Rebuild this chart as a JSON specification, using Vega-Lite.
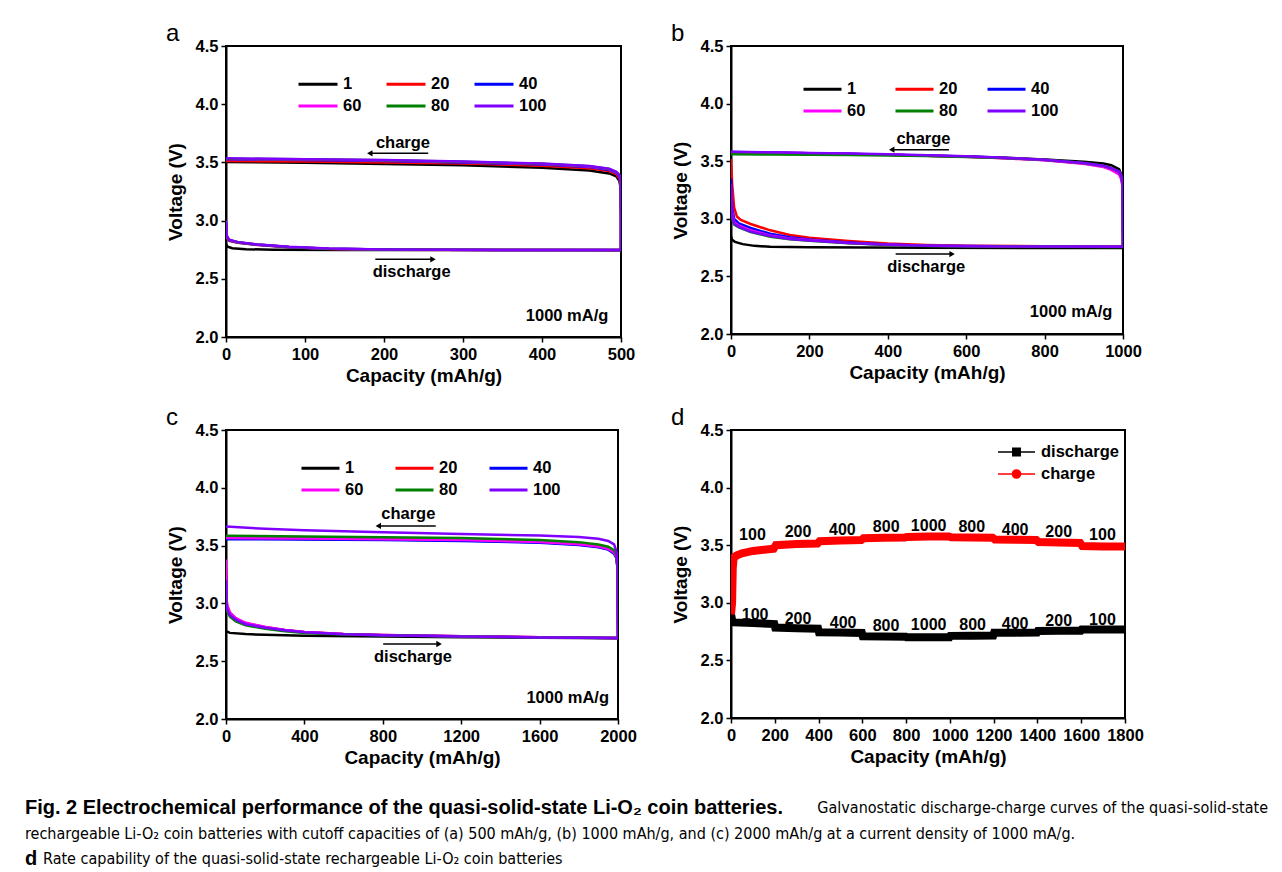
{
  "$schema": "https://vega.github.io/schema/vega-lite/v6.json",
  "background": "white",
  "padding": {"left": 25, "top": 21, "right": 4, "bottom": 2},
  "config": {
    "font": "Liberation Sans, Arial, sans-serif",
    "view": {"stroke": "#000000", "strokeWidth": 2},
    "axis": {"domainColor": "#000000", "domainWidth": 2, "tickColor": "#000000", "tickWidth": 1.5, "labelColor": "#000000", "labelFontSize": 16.5, "labelFontWeight": "bold", "titleColor": "#000000", "titleFontSize": 19, "titleFontWeight": "bold", "grid": false, "labelOverlap": false, "labelFlush": false, "labelBound": false},
    "axisX": {"labelPadding": 4, "titlePadding": 4},
    "axisY": {"labelPadding": 3, "titlePadding": 10},
    "legend": {"labelFontSize": 16.5, "labelFontWeight": "bold", "labelColor": "#000000", "padding": 0},
    "title": {"color": "#000000"}
  },
  "datasets": {
    "a": [
      {"cycle":"1","capacity":0,"voltage":2.8},{"cycle":"1","capacity":2,"voltage":2.775},{"cycle":"1","capacity":8,"voltage":2.762},{"cycle":"1","capacity":25,"voltage":2.754},{"cycle":"1","capacity":60,"voltage":2.75},{"cycle":"1","capacity":150,"voltage":2.748},{"cycle":"1","capacity":300,"voltage":2.747},{"cycle":"1","capacity":500,"voltage":2.746},
      {"cycle":"1","capacity":500,"voltage":3.05},{"cycle":"1","capacity":499.5,"voltage":3.28},{"cycle":"1","capacity":498,"voltage":3.34},{"cycle":"1","capacity":494,"voltage":3.38},{"cycle":"1","capacity":485,"voltage":3.405},{"cycle":"1","capacity":460,"voltage":3.43},{"cycle":"1","capacity":400,"voltage":3.455},{"cycle":"1","capacity":300,"voltage":3.475},{"cycle":"1","capacity":200,"voltage":3.487},{"cycle":"1","capacity":100,"voltage":3.496},{"cycle":"1","capacity":0,"voltage":3.503},
      {"cycle":"20","capacity":0,"voltage":2.93},{"cycle":"20","capacity":1,"voltage":2.85},{"cycle":"20","capacity":4,"voltage":2.825},{"cycle":"20","capacity":15,"voltage":2.81},{"cycle":"20","capacity":40,"voltage":2.79},{"cycle":"20","capacity":80,"voltage":2.77},{"cycle":"20","capacity":130,"voltage":2.757},{"cycle":"20","capacity":200,"voltage":2.75},{"cycle":"20","capacity":350,"voltage":2.748},{"cycle":"20","capacity":500,"voltage":2.747},
      {"cycle":"20","capacity":500,"voltage":3.05},{"cycle":"20","capacity":499.5,"voltage":3.3},{"cycle":"20","capacity":498,"voltage":3.36},{"cycle":"20","capacity":494,"voltage":3.4},{"cycle":"20","capacity":485,"voltage":3.425},{"cycle":"20","capacity":460,"voltage":3.45},{"cycle":"20","capacity":400,"voltage":3.472},{"cycle":"20","capacity":300,"voltage":3.49},{"cycle":"20","capacity":200,"voltage":3.5},{"cycle":"20","capacity":100,"voltage":3.507},{"cycle":"20","capacity":0,"voltage":3.513},
      {"cycle":"40","capacity":0,"voltage":2.97},{"cycle":"40","capacity":1,"voltage":2.86},{"cycle":"40","capacity":4,"voltage":2.83},{"cycle":"40","capacity":15,"voltage":2.812},{"cycle":"40","capacity":40,"voltage":2.792},{"cycle":"40","capacity":80,"voltage":2.772},{"cycle":"40","capacity":130,"voltage":2.758},{"cycle":"40","capacity":200,"voltage":2.751},{"cycle":"40","capacity":350,"voltage":2.748},{"cycle":"40","capacity":500,"voltage":2.747},
      {"cycle":"40","capacity":500,"voltage":3.05},{"cycle":"40","capacity":499.5,"voltage":3.32},{"cycle":"40","capacity":498,"voltage":3.38},{"cycle":"40","capacity":494,"voltage":3.41},{"cycle":"40","capacity":485,"voltage":3.435},{"cycle":"40","capacity":460,"voltage":3.46},{"cycle":"40","capacity":400,"voltage":3.482},{"cycle":"40","capacity":300,"voltage":3.5},{"cycle":"40","capacity":200,"voltage":3.512},{"cycle":"40","capacity":100,"voltage":3.52},{"cycle":"40","capacity":0,"voltage":3.526},
      {"cycle":"60","capacity":0,"voltage":2.98},{"cycle":"60","capacity":1,"voltage":2.865},{"cycle":"60","capacity":4,"voltage":2.832},{"cycle":"60","capacity":15,"voltage":2.814},{"cycle":"60","capacity":40,"voltage":2.794},{"cycle":"60","capacity":80,"voltage":2.773},{"cycle":"60","capacity":130,"voltage":2.759},{"cycle":"60","capacity":200,"voltage":2.751},{"cycle":"60","capacity":350,"voltage":2.748},{"cycle":"60","capacity":500,"voltage":2.747},
      {"cycle":"60","capacity":500,"voltage":3.05},{"cycle":"60","capacity":499.5,"voltage":3.33},{"cycle":"60","capacity":498,"voltage":3.385},{"cycle":"60","capacity":494,"voltage":3.415},{"cycle":"60","capacity":485,"voltage":3.44},{"cycle":"60","capacity":460,"voltage":3.465},{"cycle":"60","capacity":400,"voltage":3.486},{"cycle":"60","capacity":300,"voltage":3.504},{"cycle":"60","capacity":200,"voltage":3.516},{"cycle":"60","capacity":100,"voltage":3.524},{"cycle":"60","capacity":0,"voltage":3.53},
      {"cycle":"80","capacity":0,"voltage":2.99},{"cycle":"80","capacity":1,"voltage":2.867},{"cycle":"80","capacity":4,"voltage":2.833},{"cycle":"80","capacity":15,"voltage":2.814},{"cycle":"80","capacity":40,"voltage":2.794},{"cycle":"80","capacity":80,"voltage":2.774},{"cycle":"80","capacity":130,"voltage":2.759},{"cycle":"80","capacity":200,"voltage":2.752},{"cycle":"80","capacity":350,"voltage":2.748},{"cycle":"80","capacity":500,"voltage":2.747},
      {"cycle":"80","capacity":500,"voltage":3.05},{"cycle":"80","capacity":499.5,"voltage":3.335},{"cycle":"80","capacity":498,"voltage":3.388},{"cycle":"80","capacity":494,"voltage":3.418},{"cycle":"80","capacity":485,"voltage":3.443},{"cycle":"80","capacity":460,"voltage":3.468},{"cycle":"80","capacity":400,"voltage":3.488},{"cycle":"80","capacity":300,"voltage":3.506},{"cycle":"80","capacity":200,"voltage":3.518},{"cycle":"80","capacity":100,"voltage":3.526},{"cycle":"80","capacity":0,"voltage":3.532},
      {"cycle":"100","capacity":0,"voltage":3.0},{"cycle":"100","capacity":1,"voltage":2.87},{"cycle":"100","capacity":4,"voltage":2.835},{"cycle":"100","capacity":15,"voltage":2.815},{"cycle":"100","capacity":40,"voltage":2.795},{"cycle":"100","capacity":80,"voltage":2.775},{"cycle":"100","capacity":130,"voltage":2.76},{"cycle":"100","capacity":200,"voltage":2.752},{"cycle":"100","capacity":350,"voltage":2.748},{"cycle":"100","capacity":500,"voltage":2.747},
      {"cycle":"100","capacity":500,"voltage":3.05},{"cycle":"100","capacity":499.5,"voltage":3.34},{"cycle":"100","capacity":498,"voltage":3.39},{"cycle":"100","capacity":494,"voltage":3.42},{"cycle":"100","capacity":485,"voltage":3.445},{"cycle":"100","capacity":460,"voltage":3.47},{"cycle":"100","capacity":400,"voltage":3.49},{"cycle":"100","capacity":300,"voltage":3.508},{"cycle":"100","capacity":200,"voltage":3.52},{"cycle":"100","capacity":100,"voltage":3.528},{"cycle":"100","capacity":0,"voltage":3.535}
    ],
    "b": [
      {"cycle":"1","capacity":0,"voltage":2.85},{"cycle":"1","capacity":2,"voltage":2.82},{"cycle":"1","capacity":10,"voltage":2.8},{"cycle":"1","capacity":30,"voltage":2.78},{"cycle":"1","capacity":60,"voltage":2.765},{"cycle":"1","capacity":100,"voltage":2.757},{"cycle":"1","capacity":200,"voltage":2.752},{"cycle":"1","capacity":500,"voltage":2.748},{"cycle":"1","capacity":1000,"voltage":2.747},
      {"cycle":"1","capacity":1000,"voltage":2.8},{"cycle":"1","capacity":999,"voltage":3.3},{"cycle":"1","capacity":996,"voltage":3.38},{"cycle":"1","capacity":990,"voltage":3.43},{"cycle":"1","capacity":970,"voltage":3.465},{"cycle":"1","capacity":950,"voltage":3.48},{"cycle":"1","capacity":900,"voltage":3.495},{"cycle":"1","capacity":800,"voltage":3.515},{"cycle":"1","capacity":700,"voltage":3.53},{"cycle":"1","capacity":600,"voltage":3.54},{"cycle":"1","capacity":500,"voltage":3.548},{"cycle":"1","capacity":400,"voltage":3.555},{"cycle":"1","capacity":300,"voltage":3.562},{"cycle":"1","capacity":200,"voltage":3.567},{"cycle":"1","capacity":100,"voltage":3.572},{"cycle":"1","capacity":0,"voltage":3.576},
      {"cycle":"20","capacity":0,"voltage":3.52},{"cycle":"20","capacity":3,"voltage":3.3},{"cycle":"20","capacity":8,"voltage":3.1},{"cycle":"20","capacity":15,"voltage":3.02},{"cycle":"20","capacity":25,"voltage":2.99},{"cycle":"20","capacity":50,"voltage":2.955},{"cycle":"20","capacity":100,"voltage":2.9},{"cycle":"20","capacity":150,"voltage":2.86},{"cycle":"20","capacity":200,"voltage":2.835},{"cycle":"20","capacity":300,"voltage":2.807},{"cycle":"20","capacity":400,"voltage":2.785},{"cycle":"20","capacity":500,"voltage":2.772},{"cycle":"20","capacity":600,"voltage":2.765},{"cycle":"20","capacity":800,"voltage":2.762},{"cycle":"20","capacity":1000,"voltage":2.76},
      {"cycle":"20","capacity":1000,"voltage":2.8},{"cycle":"20","capacity":999,"voltage":3.28},{"cycle":"20","capacity":996,"voltage":3.35},{"cycle":"20","capacity":990,"voltage":3.39},{"cycle":"20","capacity":970,"voltage":3.43},{"cycle":"20","capacity":950,"voltage":3.455},{"cycle":"20","capacity":900,"voltage":3.48},{"cycle":"20","capacity":800,"voltage":3.51},{"cycle":"20","capacity":700,"voltage":3.525},{"cycle":"20","capacity":600,"voltage":3.538},{"cycle":"20","capacity":500,"voltage":3.548},{"cycle":"20","capacity":400,"voltage":3.556},{"cycle":"20","capacity":300,"voltage":3.563},{"cycle":"20","capacity":200,"voltage":3.568},{"cycle":"20","capacity":100,"voltage":3.573},{"cycle":"20","capacity":0,"voltage":3.577},
      {"cycle":"40","capacity":0,"voltage":3.35},{"cycle":"40","capacity":3,"voltage":3.1},{"cycle":"40","capacity":8,"voltage":3.0},{"cycle":"40","capacity":20,"voltage":2.96},{"cycle":"40","capacity":50,"voltage":2.92},{"cycle":"40","capacity":100,"voltage":2.87},{"cycle":"40","capacity":150,"voltage":2.84},{"cycle":"40","capacity":200,"voltage":2.82},{"cycle":"40","capacity":300,"voltage":2.795},{"cycle":"40","capacity":400,"voltage":2.777},{"cycle":"40","capacity":500,"voltage":2.767},{"cycle":"40","capacity":700,"voltage":2.762},{"cycle":"40","capacity":1000,"voltage":2.758},
      {"cycle":"40","capacity":1000,"voltage":2.8},{"cycle":"40","capacity":999,"voltage":3.29},{"cycle":"40","capacity":996,"voltage":3.36},{"cycle":"40","capacity":990,"voltage":3.4},{"cycle":"40","capacity":970,"voltage":3.435},{"cycle":"40","capacity":950,"voltage":3.458},{"cycle":"40","capacity":900,"voltage":3.482},{"cycle":"40","capacity":800,"voltage":3.511},{"cycle":"40","capacity":700,"voltage":3.527},{"cycle":"40","capacity":600,"voltage":3.54},{"cycle":"40","capacity":500,"voltage":3.55},{"cycle":"40","capacity":400,"voltage":3.557},{"cycle":"40","capacity":300,"voltage":3.564},{"cycle":"40","capacity":200,"voltage":3.57},{"cycle":"40","capacity":100,"voltage":3.575},{"cycle":"40","capacity":0,"voltage":3.579},
      {"cycle":"60","capacity":0,"voltage":3.25},{"cycle":"60","capacity":3,"voltage":3.05},{"cycle":"60","capacity":8,"voltage":2.97},{"cycle":"60","capacity":20,"voltage":2.94},{"cycle":"60","capacity":50,"voltage":2.9},{"cycle":"60","capacity":100,"voltage":2.855},{"cycle":"60","capacity":150,"voltage":2.83},{"cycle":"60","capacity":200,"voltage":2.815},{"cycle":"60","capacity":300,"voltage":2.79},{"cycle":"60","capacity":400,"voltage":2.775},{"cycle":"60","capacity":500,"voltage":2.765},{"cycle":"60","capacity":700,"voltage":2.76},{"cycle":"60","capacity":1000,"voltage":2.757},
      {"cycle":"60","capacity":1000,"voltage":2.8},{"cycle":"60","capacity":999,"voltage":3.27},{"cycle":"60","capacity":996,"voltage":3.34},{"cycle":"60","capacity":990,"voltage":3.385},{"cycle":"60","capacity":970,"voltage":3.425},{"cycle":"60","capacity":950,"voltage":3.45},{"cycle":"60","capacity":900,"voltage":3.478},{"cycle":"60","capacity":800,"voltage":3.508},{"cycle":"60","capacity":700,"voltage":3.525},{"cycle":"60","capacity":600,"voltage":3.538},{"cycle":"60","capacity":500,"voltage":3.548},{"cycle":"60","capacity":400,"voltage":3.556},{"cycle":"60","capacity":300,"voltage":3.563},{"cycle":"60","capacity":200,"voltage":3.569},{"cycle":"60","capacity":100,"voltage":3.574},{"cycle":"60","capacity":0,"voltage":3.578},
      {"cycle":"80","capacity":0,"voltage":3.2},{"cycle":"80","capacity":3,"voltage":3.0},{"cycle":"80","capacity":8,"voltage":2.95},{"cycle":"80","capacity":20,"voltage":2.925},{"cycle":"80","capacity":50,"voltage":2.885},{"cycle":"80","capacity":100,"voltage":2.845},{"cycle":"80","capacity":150,"voltage":2.822},{"cycle":"80","capacity":200,"voltage":2.81},{"cycle":"80","capacity":300,"voltage":2.788},{"cycle":"80","capacity":400,"voltage":2.772},{"cycle":"80","capacity":500,"voltage":2.764},{"cycle":"80","capacity":700,"voltage":2.759},{"cycle":"80","capacity":1000,"voltage":2.755},
      {"cycle":"80","capacity":1000,"voltage":2.8},{"cycle":"80","capacity":999,"voltage":3.3},{"cycle":"80","capacity":996,"voltage":3.37},{"cycle":"80","capacity":990,"voltage":3.41},{"cycle":"80","capacity":970,"voltage":3.44},{"cycle":"80","capacity":950,"voltage":3.46},{"cycle":"80","capacity":900,"voltage":3.485},{"cycle":"80","capacity":800,"voltage":3.512},{"cycle":"80","capacity":700,"voltage":3.527},{"cycle":"80","capacity":600,"voltage":3.537},{"cycle":"80","capacity":500,"voltage":3.545},{"cycle":"80","capacity":400,"voltage":3.55},{"cycle":"80","capacity":300,"voltage":3.553},{"cycle":"80","capacity":200,"voltage":3.556},{"cycle":"80","capacity":100,"voltage":3.558},{"cycle":"80","capacity":0,"voltage":3.56},
      {"cycle":"100","capacity":0,"voltage":3.3},{"cycle":"100","capacity":3,"voltage":3.02},{"cycle":"100","capacity":8,"voltage":2.96},{"cycle":"100","capacity":20,"voltage":2.93},{"cycle":"100","capacity":50,"voltage":2.89},{"cycle":"100","capacity":100,"voltage":2.85},{"cycle":"100","capacity":150,"voltage":2.825},{"cycle":"100","capacity":200,"voltage":2.812},{"cycle":"100","capacity":300,"voltage":2.79},{"cycle":"100","capacity":400,"voltage":2.774},{"cycle":"100","capacity":500,"voltage":2.765},{"cycle":"100","capacity":700,"voltage":2.76},{"cycle":"100","capacity":1000,"voltage":2.757},
      {"cycle":"100","capacity":1000,"voltage":2.8},{"cycle":"100","capacity":999,"voltage":3.3},{"cycle":"100","capacity":996,"voltage":3.37},{"cycle":"100","capacity":990,"voltage":3.41},{"cycle":"100","capacity":970,"voltage":3.44},{"cycle":"100","capacity":950,"voltage":3.46},{"cycle":"100","capacity":900,"voltage":3.485},{"cycle":"100","capacity":800,"voltage":3.512},{"cycle":"100","capacity":700,"voltage":3.53},{"cycle":"100","capacity":600,"voltage":3.542},{"cycle":"100","capacity":500,"voltage":3.552},{"cycle":"100","capacity":400,"voltage":3.56},{"cycle":"100","capacity":300,"voltage":3.566},{"cycle":"100","capacity":200,"voltage":3.572},{"cycle":"100","capacity":100,"voltage":3.577},{"cycle":"100","capacity":0,"voltage":3.582}
    ],
    "c": [
      {"cycle":"1","capacity":0,"voltage":2.76},{"cycle":"1","capacity":20,"voltage":2.745},{"cycle":"1","capacity":100,"voltage":2.735},{"cycle":"1","capacity":200,"voltage":2.728},{"cycle":"1","capacity":400,"voltage":2.72},{"cycle":"1","capacity":800,"voltage":2.713},{"cycle":"1","capacity":1200,"voltage":2.708},{"cycle":"1","capacity":1600,"voltage":2.703},{"cycle":"1","capacity":2000,"voltage":2.698},
      {"cycle":"1","capacity":2000,"voltage":2.75},{"cycle":"1","capacity":1998,"voltage":3.3},{"cycle":"1","capacity":1992,"voltage":3.4},{"cycle":"1","capacity":1980,"voltage":3.44},{"cycle":"1","capacity":1950,"voltage":3.47},{"cycle":"1","capacity":1900,"voltage":3.49},{"cycle":"1","capacity":1800,"voltage":3.51},{"cycle":"1","capacity":1600,"voltage":3.53},{"cycle":"1","capacity":1200,"voltage":3.545},{"cycle":"1","capacity":800,"voltage":3.553},{"cycle":"1","capacity":400,"voltage":3.558},{"cycle":"1","capacity":0,"voltage":3.562},
      {"cycle":"20","capacity":0,"voltage":3.3},{"cycle":"20","capacity":2,"voltage":3.05},{"cycle":"20","capacity":6,"voltage":2.98},{"cycle":"20","capacity":20,"voltage":2.92},{"cycle":"20","capacity":50,"voltage":2.87},{"cycle":"20","capacity":100,"voltage":2.83},{"cycle":"20","capacity":200,"voltage":2.795},{"cycle":"20","capacity":300,"voltage":2.77},{"cycle":"20","capacity":400,"voltage":2.752},{"cycle":"20","capacity":600,"voltage":2.735},{"cycle":"20","capacity":800,"voltage":2.726},{"cycle":"20","capacity":1200,"voltage":2.716},{"cycle":"20","capacity":1600,"voltage":2.708},{"cycle":"20","capacity":2000,"voltage":2.7},
      {"cycle":"20","capacity":2000,"voltage":2.75},{"cycle":"20","capacity":1998,"voltage":3.3},{"cycle":"20","capacity":1992,"voltage":3.4},{"cycle":"20","capacity":1980,"voltage":3.44},{"cycle":"20","capacity":1950,"voltage":3.475},{"cycle":"20","capacity":1900,"voltage":3.495},{"cycle":"20","capacity":1800,"voltage":3.515},{"cycle":"20","capacity":1600,"voltage":3.535},{"cycle":"20","capacity":1200,"voltage":3.55},{"cycle":"20","capacity":800,"voltage":3.558},{"cycle":"20","capacity":400,"voltage":3.563},{"cycle":"20","capacity":0,"voltage":3.567},
      {"cycle":"40","capacity":0,"voltage":3.25},{"cycle":"40","capacity":2,"voltage":3.02},{"cycle":"40","capacity":6,"voltage":2.96},{"cycle":"40","capacity":20,"voltage":2.905},{"cycle":"40","capacity":50,"voltage":2.86},{"cycle":"40","capacity":100,"voltage":2.822},{"cycle":"40","capacity":200,"voltage":2.79},{"cycle":"40","capacity":300,"voltage":2.767},{"cycle":"40","capacity":400,"voltage":2.75},{"cycle":"40","capacity":600,"voltage":2.734},{"cycle":"40","capacity":800,"voltage":2.725},{"cycle":"40","capacity":1200,"voltage":2.715},{"cycle":"40","capacity":1600,"voltage":2.707},{"cycle":"40","capacity":2000,"voltage":2.7},
      {"cycle":"40","capacity":2000,"voltage":2.75},{"cycle":"40","capacity":1998,"voltage":3.3},{"cycle":"40","capacity":1992,"voltage":3.39},{"cycle":"40","capacity":1980,"voltage":3.43},{"cycle":"40","capacity":1950,"voltage":3.465},{"cycle":"40","capacity":1900,"voltage":3.485},{"cycle":"40","capacity":1800,"voltage":3.505},{"cycle":"40","capacity":1600,"voltage":3.525},{"cycle":"40","capacity":1200,"voltage":3.54},{"cycle":"40","capacity":800,"voltage":3.548},{"cycle":"40","capacity":400,"voltage":3.552},{"cycle":"40","capacity":0,"voltage":3.555},
      {"cycle":"60","capacity":0,"voltage":3.38},{"cycle":"60","capacity":2,"voltage":3.06},{"cycle":"60","capacity":6,"voltage":2.985},{"cycle":"60","capacity":20,"voltage":2.92},{"cycle":"60","capacity":50,"voltage":2.872},{"cycle":"60","capacity":100,"voltage":2.832},{"cycle":"60","capacity":200,"voltage":2.797},{"cycle":"60","capacity":300,"voltage":2.771},{"cycle":"60","capacity":400,"voltage":2.753},{"cycle":"60","capacity":600,"voltage":2.736},{"cycle":"60","capacity":800,"voltage":2.727},{"cycle":"60","capacity":1200,"voltage":2.716},{"cycle":"60","capacity":1600,"voltage":2.708},{"cycle":"60","capacity":2000,"voltage":2.7},
      {"cycle":"60","capacity":2000,"voltage":2.75},{"cycle":"60","capacity":1998,"voltage":3.3},{"cycle":"60","capacity":1992,"voltage":3.4},{"cycle":"60","capacity":1980,"voltage":3.44},{"cycle":"60","capacity":1950,"voltage":3.472},{"cycle":"60","capacity":1900,"voltage":3.492},{"cycle":"60","capacity":1800,"voltage":3.512},{"cycle":"60","capacity":1600,"voltage":3.532},{"cycle":"60","capacity":1200,"voltage":3.548},{"cycle":"60","capacity":800,"voltage":3.556},{"cycle":"60","capacity":400,"voltage":3.561},{"cycle":"60","capacity":0,"voltage":3.565},
      {"cycle":"80","capacity":0,"voltage":3.1},{"cycle":"80","capacity":2,"voltage":2.98},{"cycle":"80","capacity":6,"voltage":2.93},{"cycle":"80","capacity":20,"voltage":2.885},{"cycle":"80","capacity":50,"voltage":2.845},{"cycle":"80","capacity":100,"voltage":2.81},{"cycle":"80","capacity":200,"voltage":2.78},{"cycle":"80","capacity":300,"voltage":2.76},{"cycle":"80","capacity":400,"voltage":2.745},{"cycle":"80","capacity":600,"voltage":2.732},{"cycle":"80","capacity":800,"voltage":2.724},{"cycle":"80","capacity":1200,"voltage":2.714},{"cycle":"80","capacity":1600,"voltage":2.706},{"cycle":"80","capacity":2000,"voltage":2.7},
      {"cycle":"80","capacity":2000,"voltage":2.75},{"cycle":"80","capacity":1998,"voltage":3.3},{"cycle":"80","capacity":1992,"voltage":3.42},{"cycle":"80","capacity":1980,"voltage":3.46},{"cycle":"80","capacity":1950,"voltage":3.49},{"cycle":"80","capacity":1900,"voltage":3.51},{"cycle":"80","capacity":1800,"voltage":3.53},{"cycle":"80","capacity":1600,"voltage":3.548},{"cycle":"80","capacity":1200,"voltage":3.565},{"cycle":"80","capacity":800,"voltage":3.573},{"cycle":"80","capacity":400,"voltage":3.579},{"cycle":"80","capacity":0,"voltage":3.585},
      {"cycle":"100","capacity":0,"voltage":3.2},{"cycle":"100","capacity":2,"voltage":3.0},{"cycle":"100","capacity":6,"voltage":2.95},{"cycle":"100","capacity":20,"voltage":2.9},{"cycle":"100","capacity":50,"voltage":2.86},{"cycle":"100","capacity":100,"voltage":2.82},{"cycle":"100","capacity":200,"voltage":2.79},{"cycle":"100","capacity":300,"voltage":2.768},{"cycle":"100","capacity":400,"voltage":2.75},{"cycle":"100","capacity":600,"voltage":2.733},{"cycle":"100","capacity":800,"voltage":2.725},{"cycle":"100","capacity":1200,"voltage":2.714},{"cycle":"100","capacity":1600,"voltage":2.706},{"cycle":"100","capacity":2000,"voltage":2.7},
      {"cycle":"100","capacity":2000,"voltage":2.75},{"cycle":"100","capacity":1998,"voltage":3.35},{"cycle":"100","capacity":1992,"voltage":3.45},{"cycle":"100","capacity":1980,"voltage":3.51},{"cycle":"100","capacity":1950,"voltage":3.54},{"cycle":"100","capacity":1900,"voltage":3.56},{"cycle":"100","capacity":1800,"voltage":3.575},{"cycle":"100","capacity":1600,"voltage":3.587},{"cycle":"100","capacity":1200,"voltage":3.6},{"cycle":"100","capacity":800,"voltage":3.615},{"cycle":"100","capacity":400,"voltage":3.632},{"cycle":"100","capacity":200,"voltage":3.645},{"cycle":"100","capacity":0,"voltage":3.665}
    ],
    "d": [
      {"step":"discharge","capacity":0,"voltage":2.9},{"step":"discharge","capacity":5,"voltage":2.85},{"step":"discharge","capacity":15,"voltage":2.83},{"step":"discharge","capacity":100,"voltage":2.825},{"step":"discharge","capacity":198,"voltage":2.815},{"step":"discharge","capacity":202,"voltage":2.785},{"step":"discharge","capacity":300,"voltage":2.78},{"step":"discharge","capacity":398,"voltage":2.775},{"step":"discharge","capacity":402,"voltage":2.745},{"step":"discharge","capacity":500,"voltage":2.742},{"step":"discharge","capacity":598,"voltage":2.738},{"step":"discharge","capacity":602,"voltage":2.71},{"step":"discharge","capacity":700,"voltage":2.708},{"step":"discharge","capacity":798,"voltage":2.706},{"step":"discharge","capacity":802,"voltage":2.7},{"step":"discharge","capacity":900,"voltage":2.7},{"step":"discharge","capacity":998,"voltage":2.7},{"step":"discharge","capacity":1002,"voltage":2.713},{"step":"discharge","capacity":1100,"voltage":2.715},{"step":"discharge","capacity":1198,"voltage":2.716},{"step":"discharge","capacity":1202,"voltage":2.74},{"step":"discharge","capacity":1300,"voltage":2.741},{"step":"discharge","capacity":1398,"voltage":2.742},{"step":"discharge","capacity":1402,"voltage":2.755},{"step":"discharge","capacity":1500,"voltage":2.757},{"step":"discharge","capacity":1598,"voltage":2.758},{"step":"discharge","capacity":1602,"voltage":2.768},{"step":"discharge","capacity":1700,"voltage":2.768},{"step":"discharge","capacity":1800,"voltage":2.768},
      {"step":"charge","capacity":0,"voltage":2.9},{"step":"charge","capacity":5,"voltage":3.0},{"step":"charge","capacity":8,"voltage":3.3},{"step":"charge","capacity":12,"voltage":3.39},{"step":"charge","capacity":25,"voltage":3.41},{"step":"charge","capacity":50,"voltage":3.43},{"step":"charge","capacity":100,"voltage":3.45},{"step":"charge","capacity":150,"voltage":3.46},{"step":"charge","capacity":195,"voltage":3.47},{"step":"charge","capacity":205,"voltage":3.5},{"step":"charge","capacity":300,"voltage":3.51},{"step":"charge","capacity":395,"voltage":3.515},{"step":"charge","capacity":405,"voltage":3.535},{"step":"charge","capacity":500,"voltage":3.54},{"step":"charge","capacity":595,"voltage":3.545},{"step":"charge","capacity":605,"voltage":3.56},{"step":"charge","capacity":700,"voltage":3.565},{"step":"charge","capacity":795,"voltage":3.567},{"step":"charge","capacity":805,"voltage":3.572},{"step":"charge","capacity":900,"voltage":3.575},{"step":"charge","capacity":995,"voltage":3.575},{"step":"charge","capacity":1005,"voltage":3.568},{"step":"charge","capacity":1100,"voltage":3.567},{"step":"charge","capacity":1195,"voltage":3.565},{"step":"charge","capacity":1205,"voltage":3.55},{"step":"charge","capacity":1300,"voltage":3.547},{"step":"charge","capacity":1395,"voltage":3.545},{"step":"charge","capacity":1405,"voltage":3.528},{"step":"charge","capacity":1500,"voltage":3.523},{"step":"charge","capacity":1595,"voltage":3.52},{"step":"charge","capacity":1605,"voltage":3.492},{"step":"charge","capacity":1700,"voltage":3.488},{"step":"charge","capacity":1800,"voltage":3.488}
    ],
    "rates": [
      {"text":"100","capacity":98,"voltage":3.586},{"text":"200","capacity":306,"voltage":3.615},{"text":"400","capacity":509,"voltage":3.632},{"text":"800","capacity":709,"voltage":3.661},{"text":"1000","capacity":903,"voltage":3.67},{"text":"800","capacity":1100,"voltage":3.661},{"text":"400","capacity":1298,"voltage":3.632},{"text":"200","capacity":1497,"voltage":3.615},{"text":"100","capacity":1697,"voltage":3.592},
      {"text":"100","capacity":110,"voltage":2.895},{"text":"200","capacity":306,"voltage":2.859},{"text":"400","capacity":512,"voltage":2.825},{"text":"800","capacity":708,"voltage":2.796},{"text":"1000","capacity":903,"voltage":2.805},{"text":"800","capacity":1104,"voltage":2.81},{"text":"400","capacity":1298,"voltage":2.816},{"text":"200","capacity":1497,"voltage":2.845},{"text":"100","capacity":1697,"voltage":2.85}
    ],
    "notes": [
      {"panel":"a","kind":"label","text":"charge","capacity":224,"voltage":3.664},
      {"panel":"a","kind":"label","text":"discharge","capacity":235,"voltage":2.556},
      {"panel":"a","kind":"rate","text":"1000 mA/g","capacity":484,"voltage":2.18},
      {"panel":"b","kind":"label","text":"charge","capacity":491,"voltage":3.693},
      {"panel":"b","kind":"label","text":"discharge","capacity":498,"voltage":2.579},
      {"panel":"b","kind":"rate","text":"1000 mA/g","capacity":973,"voltage":2.188},
      {"panel":"c","kind":"label","text":"charge","capacity":930,"voltage":3.771},
      {"panel":"c","kind":"label","text":"discharge","capacity":954,"voltage":2.534},
      {"panel":"c","kind":"rate","text":"1000 mA/g","capacity":1954,"voltage":2.184}
    ],
    "arrows": [
      {"panel":"a","start":256,"end":182,"voltage":3.578,"direction":"left"},
      {"panel":"a","start":189,"end":262,"voltage":2.667,"direction":"right"},
      {"panel":"b","start":556,"end":410,"voltage":3.6,"direction":"left"},
      {"panel":"b","start":420,"end":564,"voltage":2.694,"direction":"right"},
      {"panel":"c","start":1070,"end":777,"voltage":3.67,"direction":"left"},
      {"panel":"c","start":802,"end":1087,"voltage":2.649,"direction":"right"}
    ],
    "caption": [
      {"line":1,"part":"head","text":"Fig. 2 Electrochemical performance of the quasi-solid-state Li-O₂ coin batteries."},
      {"line":1,"part":"tail","text":"Galvanostatic discharge-charge curves of the quasi-solid-state"},
      {"line":2,"part":"body","text":"rechargeable Li-O₂ coin batteries with cutoff capacities of (a) 500 mAh/g, (b) 1000 mAh/g, and (c) 2000 mAh/g at a current density of 1000 mA/g."},
      {"line":3,"part":"lead","text":"d"},
      {"line":3,"part":"rest","text":"Rate capability of the quasi-solid-state rechargeable Li-O₂ coin batteries"}
    ]
  },
  "spacing": 29,
  "resolve": {"scale": {"color": "independent", "shape": "independent"}, "legend": {"color": "independent", "shape": "independent"}},
  "vconcat": [
    {
      "columns": 2,
      "spacing": {"row": 18, "column": 32},
      "resolve": {"scale": {"color": "independent", "shape": "independent"}, "legend": {"color": "independent", "shape": "independent"}},
      "concat": [
        {
          "width": 395, "height": 291,
          "title": {"text": "a", "anchor": "start", "frame": "bounds", "fontSize": 24, "fontWeight": "normal", "baseline": "bottom", "offset": -32},
          "layer": [
            {
              "data": {"name": "a"},
              "mark": {"type": "line", "strokeWidth": 2.5, "clip": true},
              "encoding": {
                "x": {"field": "capacity", "type": "quantitative", "scale": {"domain": [0, 500], "nice": false, "zero": false},
                  "axis": {"title": "Capacity (mAh/g)", "values": [0,50,100,150,200,250,300,350,400,450,500], "format": "d", "labelExpr": "datum.value % 100 === 0 ? datum.label : ''", "tickSize": {"condition": {"test": "datum.value % 100 !== 0", "value": 3}, "value": 5}}},
                "y": {"field": "voltage", "type": "quantitative", "scale": {"domain": [2, 4.5], "nice": false, "zero": false},
                  "axis": {"title": "Voltage (V)", "values": [2,2.25,2.5,2.75,3,3.25,3.5,3.75,4,4.25,4.5], "format": ".1f", "labelExpr": "round(datum.value*4) % 2 === 0 ? datum.label : ''", "tickSize": {"condition": {"test": "round(datum.value*4) % 2 !== 0", "value": 3}, "value": 5}}},
                "color": {"field": "cycle", "type": "nominal", "scale": {"domain": ["1","20","40","60","80","100"], "range": ["#000000","#ff0000","#0000ff","#ff00ff","#008000","#8000ff"]},
                  "legend": {"orient": "none", "legendX": 71, "legendY": 30, "direction": "horizontal", "columns": 3, "title": null, "symbolType": "stroke", "symbolSize": 1521, "symbolStrokeWidth": 3, "clipHeight": 16, "gridAlign": "all", "columnPadding": 14, "rowPadding": 5, "labelOffset": 4}},
                "order": {"value": null}
              }
            },
            {
              "data": {"name": "notes"},
              "transform": [{"filter": "datum.panel === 'a' && datum.kind === 'label'"}],
              "mark": {"type": "text", "fontSize": 16.5, "fontWeight": "bold", "baseline": "middle", "align": "center", "color": "#000000"},
              "encoding": {"x": {"field": "capacity", "type": "quantitative"}, "y": {"field": "voltage", "type": "quantitative"}, "text": {"field": "text"}}
            },
            {
              "data": {"name": "notes"},
              "transform": [{"filter": "datum.panel === 'a' && datum.kind === 'rate'"}],
              "mark": {"type": "text", "fontSize": 16.5, "fontWeight": "bold", "baseline": "middle", "align": "right", "color": "#000000"},
              "encoding": {"x": {"field": "capacity", "type": "quantitative"}, "y": {"field": "voltage", "type": "quantitative"}, "text": {"field": "text"}}
            },
            {
              "data": {"name": "arrows"},
              "transform": [{"filter": "datum.panel === 'a'"}],
              "mark": {"type": "rule", "strokeWidth": 1.5, "color": "#000000"},
              "encoding": {"x": {"field": "start", "type": "quantitative"}, "x2": {"field": "end"}, "y": {"field": "voltage", "type": "quantitative"}}
            },
            {
              "data": {"name": "arrows"},
              "transform": [{"filter": "datum.panel === 'a'"}],
              "mark": {"type": "point", "filled": true, "color": "#000000", "size": 40, "opacity": 1},
              "encoding": {"x": {"field": "end", "type": "quantitative"}, "y": {"field": "voltage", "type": "quantitative"},
                "shape": {"field": "direction", "type": "nominal", "scale": {"domain": ["left","right"], "range": ["triangle-left","triangle-right"]}, "legend": null}}
            }
          ]
        },
        {
          "width": 392, "height": 288,
          "title": {"text": "b", "anchor": "start", "frame": "bounds", "fontSize": 24, "fontWeight": "normal", "baseline": "bottom", "offset": -32},
          "layer": [
            {
              "data": {"name": "b"},
              "mark": {"type": "line", "strokeWidth": 2.5, "clip": true},
              "encoding": {
                "x": {"field": "capacity", "type": "quantitative", "scale": {"domain": [0, 1000], "nice": false, "zero": false},
                  "axis": {"title": "Capacity (mAh/g)", "values": [0,100,200,300,400,500,600,700,800,900,1000], "format": "d", "labelExpr": "datum.value % 200 === 0 ? datum.label : ''", "tickSize": {"condition": {"test": "datum.value % 200 !== 0", "value": 3}, "value": 5}}},
                "y": {"field": "voltage", "type": "quantitative", "scale": {"domain": [2, 4.5], "nice": false, "zero": false},
                  "axis": {"title": "Voltage (V)", "values": [2,2.25,2.5,2.75,3,3.25,3.5,3.75,4,4.25,4.5], "format": ".1f", "labelExpr": "round(datum.value*4) % 2 === 0 ? datum.label : ''", "tickSize": {"condition": {"test": "round(datum.value*4) % 2 !== 0", "value": 3}, "value": 5}}},
                "color": {"field": "cycle", "type": "nominal", "scale": {"domain": ["1","20","40","60","80","100"], "range": ["#000000","#ff0000","#0000ff","#ff00ff","#008000","#8000ff"]},
                  "legend": {"orient": "none", "legendX": 71, "legendY": 35, "direction": "horizontal", "columns": 3, "title": null, "symbolType": "stroke", "symbolSize": 1444, "symbolStrokeWidth": 3, "clipHeight": 16, "gridAlign": "all", "columnPadding": 19, "rowPadding": 5, "labelOffset": 4}},
                "order": {"value": null}
              }
            },
            {
              "data": {"name": "notes"},
              "transform": [{"filter": "datum.panel === 'b' && datum.kind === 'label'"}],
              "mark": {"type": "text", "fontSize": 16.5, "fontWeight": "bold", "baseline": "middle", "align": "center", "color": "#000000"},
              "encoding": {"x": {"field": "capacity", "type": "quantitative"}, "y": {"field": "voltage", "type": "quantitative"}, "text": {"field": "text"}}
            },
            {
              "data": {"name": "notes"},
              "transform": [{"filter": "datum.panel === 'b' && datum.kind === 'rate'"}],
              "mark": {"type": "text", "fontSize": 16.5, "fontWeight": "bold", "baseline": "middle", "align": "right", "color": "#000000"},
              "encoding": {"x": {"field": "capacity", "type": "quantitative"}, "y": {"field": "voltage", "type": "quantitative"}, "text": {"field": "text"}}
            },
            {
              "data": {"name": "arrows"},
              "transform": [{"filter": "datum.panel === 'b'"}],
              "mark": {"type": "rule", "strokeWidth": 1.5, "color": "#000000"},
              "encoding": {"x": {"field": "start", "type": "quantitative"}, "x2": {"field": "end"}, "y": {"field": "voltage", "type": "quantitative"}}
            },
            {
              "data": {"name": "arrows"},
              "transform": [{"filter": "datum.panel === 'b'"}],
              "mark": {"type": "point", "filled": true, "color": "#000000", "size": 40, "opacity": 1},
              "encoding": {"x": {"field": "end", "type": "quantitative"}, "y": {"field": "voltage", "type": "quantitative"},
                "shape": {"field": "direction", "type": "nominal", "scale": {"domain": ["left","right"], "range": ["triangle-left","triangle-right"]}, "legend": null}}
            }
          ]
        },
        {
          "width": 392, "height": 289,
          "title": {"text": "c", "anchor": "start", "frame": "bounds", "fontSize": 24, "fontWeight": "normal", "baseline": "bottom", "offset": -32},
          "layer": [
            {
              "data": {"name": "c"},
              "mark": {"type": "line", "strokeWidth": 2.5, "clip": true},
              "encoding": {
                "x": {"field": "capacity", "type": "quantitative", "scale": {"domain": [0, 2000], "nice": false, "zero": false},
                  "axis": {"title": "Capacity (mAh/g)", "values": [0,200,400,600,800,1000,1200,1400,1600,1800,2000], "format": "d", "labelExpr": "datum.value % 400 === 0 ? datum.label : ''", "tickSize": {"condition": {"test": "datum.value % 400 !== 0", "value": 3}, "value": 5}}},
                "y": {"field": "voltage", "type": "quantitative", "scale": {"domain": [2, 4.5], "nice": false, "zero": false},
                  "axis": {"title": "Voltage (V)", "values": [2,2.25,2.5,2.75,3,3.25,3.5,3.75,4,4.25,4.5], "format": ".1f", "labelExpr": "round(datum.value*4) % 2 === 0 ? datum.label : ''", "tickSize": {"condition": {"test": "round(datum.value*4) % 2 !== 0", "value": 3}, "value": 5}}},
                "color": {"field": "cycle", "type": "nominal", "scale": {"domain": ["1","20","40","60","80","100"], "range": ["#000000","#ff0000","#0000ff","#ff00ff","#008000","#8000ff"]},
                  "legend": {"orient": "none", "legendX": 74, "legendY": 30, "direction": "horizontal", "columns": 3, "title": null, "symbolType": "stroke", "symbolSize": 1444, "symbolStrokeWidth": 3, "clipHeight": 16, "gridAlign": "all", "columnPadding": 21, "rowPadding": 5, "labelOffset": 4}},
                "order": {"value": null}
              }
            },
            {
              "data": {"name": "notes"},
              "transform": [{"filter": "datum.panel === 'c' && datum.kind === 'label'"}],
              "mark": {"type": "text", "fontSize": 16.5, "fontWeight": "bold", "baseline": "middle", "align": "center", "color": "#000000"},
              "encoding": {"x": {"field": "capacity", "type": "quantitative"}, "y": {"field": "voltage", "type": "quantitative"}, "text": {"field": "text"}}
            },
            {
              "data": {"name": "notes"},
              "transform": [{"filter": "datum.panel === 'c' && datum.kind === 'rate'"}],
              "mark": {"type": "text", "fontSize": 16.5, "fontWeight": "bold", "baseline": "middle", "align": "right", "color": "#000000"},
              "encoding": {"x": {"field": "capacity", "type": "quantitative"}, "y": {"field": "voltage", "type": "quantitative"}, "text": {"field": "text"}}
            },
            {
              "data": {"name": "arrows"},
              "transform": [{"filter": "datum.panel === 'c'"}],
              "mark": {"type": "rule", "strokeWidth": 1.5, "color": "#000000"},
              "encoding": {"x": {"field": "start", "type": "quantitative"}, "x2": {"field": "end"}, "y": {"field": "voltage", "type": "quantitative"}}
            },
            {
              "data": {"name": "arrows"},
              "transform": [{"filter": "datum.panel === 'c'"}],
              "mark": {"type": "point", "filled": true, "color": "#000000", "size": 40, "opacity": 1},
              "encoding": {"x": {"field": "end", "type": "quantitative"}, "y": {"field": "voltage", "type": "quantitative"},
                "shape": {"field": "direction", "type": "nominal", "scale": {"domain": ["left","right"], "range": ["triangle-left","triangle-right"]}, "legend": null}}
            }
          ]
        },
        {
          "width": 394, "height": 288,
          "title": {"text": "d", "anchor": "start", "frame": "bounds", "fontSize": 24, "fontWeight": "normal", "baseline": "bottom", "offset": -32},
          "layer": [
            {
              "data": {"name": "d"},
              "mark": {"type": "line", "strokeWidth": 8, "clip": true},
              "encoding": {
                "x": {"field": "capacity", "type": "quantitative", "scale": {"domain": [0, 1800], "nice": false, "zero": false},
                  "axis": {"title": "Capacity (mAh/g)", "values": [0,100,200,300,400,500,600,700,800,900,1000,1100,1200,1300,1400,1500,1600,1700,1800], "format": "d", "labelExpr": "datum.value % 200 === 0 ? datum.label : ''", "tickSize": {"condition": {"test": "datum.value % 200 !== 0", "value": 3}, "value": 5}}},
                "y": {"field": "voltage", "type": "quantitative", "scale": {"domain": [2, 4.5], "nice": false, "zero": false},
                  "axis": {"title": "Voltage (V)", "values": [2,2.25,2.5,2.75,3,3.25,3.5,3.75,4,4.25,4.5], "format": ".1f", "labelExpr": "round(datum.value*4) % 2 === 0 ? datum.label : ''", "tickSize": {"condition": {"test": "round(datum.value*4) % 2 !== 0", "value": 3}, "value": 5}}},
                "color": {"field": "step", "type": "nominal", "scale": {"domain": ["discharge","charge"], "range": ["#000000","#ff0000"]},
                  "legend": {"orient": "none", "legendX": 266, "legendY": 14, "direction": "vertical", "title": null, "symbolSize": 1369, "symbolStrokeWidth": 1.5, "clipHeight": 16, "rowPadding": 5, "labelOffset": 5,
                    "encode": {"symbols": {"update": {
                      "shape": {"signal": "datum.value === 'charge' ? 'M-1,0H1M0.22,0A0.22,0.22,0,1,1,-0.22,0A0.22,0.22,0,1,1,0.22,0Z' : 'M-1,0H1M-0.2,-0.2H0.2V0.2H-0.2Z'"},
                      "fill": {"signal": "datum.value === 'charge' ? '#ff0000' : '#000000'"},
                      "stroke": {"signal": "datum.value === 'charge' ? '#ff8c8c' : '#8c8c8c'"},
                      "strokeWidth": {"value": 1.5}
                    }}}}},
                "order": {"value": null}
              }
            },
            {
              "data": {"name": "rates"},
              "mark": {"type": "text", "fontSize": 16, "fontWeight": "bold", "baseline": "middle", "align": "center", "color": "#000000"},
              "encoding": {"x": {"field": "capacity", "type": "quantitative"}, "y": {"field": "voltage", "type": "quantitative"}, "text": {"field": "text"}}
            }
          ]
        }
      ]
    },
    {
      "width": 1042, "height": 51,
      "view": {"stroke": null},
      "data": {"name": "caption"},
      "encoding": {"y": {"field": "line", "type": "ordinal", "scale": {"type": "point", "padding": 0}, "axis": null}},
      "layer": [
        {
          "transform": [{"filter": "datum.part === 'head'"}],
          "mark": {"type": "text", "align": "left", "baseline": "middle", "dx": -201, "fontSize": 20, "fontWeight": "bold", "font": "Liberation Sans", "color": "#000000"},
          "encoding": {"x": {"datum": 0, "type": "quantitative", "scale": {"domain": [0, 1], "nice": false}, "axis": null}, "text": {"field": "text"}}
        },
        {
          "transform": [{"filter": "datum.part === 'tail'"}],
          "mark": {"type": "text", "align": "right", "baseline": "middle", "fontSize": 16, "font": "Liberation Sans Narrow, DejaVu Sans Condensed, sans-serif", "color": "#000000"},
          "encoding": {"x": {"datum": 1, "type": "quantitative"}, "text": {"field": "text"}}
        },
        {
          "transform": [{"filter": "datum.part === 'body'"}],
          "mark": {"type": "text", "align": "left", "baseline": "middle", "dx": -201, "fontSize": 16, "font": "Liberation Sans Narrow, DejaVu Sans Condensed, sans-serif", "color": "#000000"},
          "encoding": {"x": {"datum": 0, "type": "quantitative"}, "text": {"field": "text"}}
        },
        {
          "transform": [{"filter": "datum.part === 'lead'"}],
          "mark": {"type": "text", "align": "left", "baseline": "middle", "dx": -201, "fontSize": 20, "fontWeight": "bold", "font": "Liberation Sans", "color": "#000000"},
          "encoding": {"x": {"datum": 0, "type": "quantitative"}, "text": {"field": "text"}}
        },
        {
          "transform": [{"filter": "datum.part === 'rest'"}],
          "mark": {"type": "text", "align": "left", "baseline": "middle", "dx": -183, "fontSize": 16, "font": "Liberation Sans Narrow, DejaVu Sans Condensed, sans-serif", "color": "#000000"},
          "encoding": {"x": {"datum": 0, "type": "quantitative"}, "text": {"field": "text"}}
        }
      ]
    }
  ]
}
